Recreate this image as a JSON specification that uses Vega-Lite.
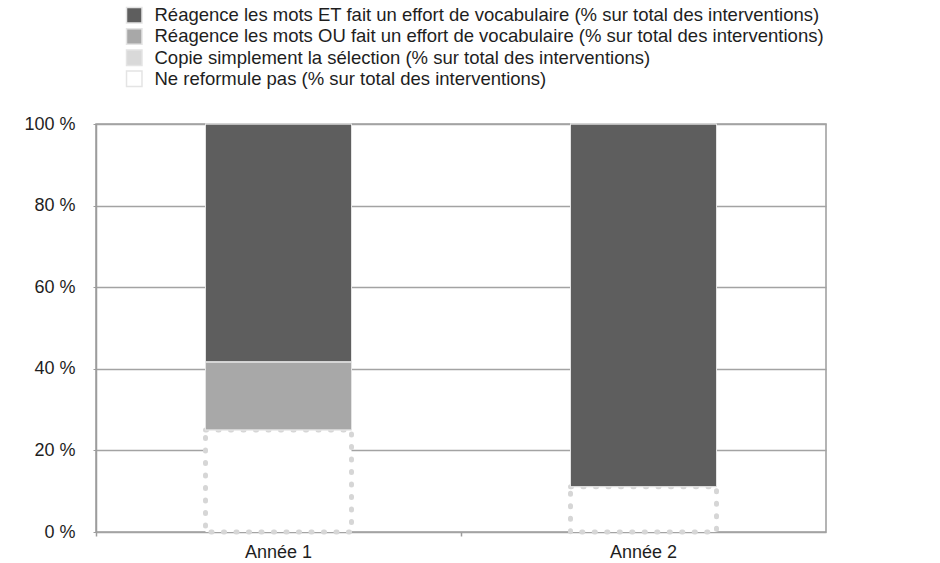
{
  "$schema": "https://vega.github.io/schema/vega-lite/v6.json",
  "width": 730,
  "height": 408,
  "autosize": {"type": "none"},
  "padding": {"left": 96, "top": 124, "right": 114, "bottom": 31},
  "background": "white",
  "config": {
    "font": "Liberation Sans",
    "view": {"stroke": "#9c9c9c", "strokeWidth": 1.5},
    "axis": {"labelFont": "Liberation Sans", "labelColor": "#1e1e1e", "labelFontSize": 18}
  },
  "data": {
    "values": [
      {"annee": "Année 1", "categorie": "Ne reformule pas (% sur total des interventions)", "rang": 1, "pct": 25},
      {"annee": "Année 1", "categorie": "Réagence les mots OU fait un effort de vocabulaire (% sur total des interventions)", "rang": 3, "pct": 16.7},
      {"annee": "Année 1", "categorie": "Réagence les mots ET fait un effort de vocabulaire (% sur total des interventions)", "rang": 4, "pct": 58.3},
      {"annee": "Année 2", "categorie": "Ne reformule pas (% sur total des interventions)", "rang": 1, "pct": 11.1},
      {"annee": "Année 2", "categorie": "Réagence les mots ET fait un effort de vocabulaire (% sur total des interventions)", "rang": 4, "pct": 88.9}
    ]
  },
  "resolve": {"axis": {"x": "independent"}},
  "layer": [
    {
      "mark": {"type": "bar", "width": {"band": 0.4}, "strokeCap": "round"},
      "encoding": {
        "x": {
          "field": "annee",
          "type": "nominal",
          "scale": {"paddingInner": 0, "paddingOuter": 0},
          "axis": {"title": null, "labelAngle": 0, "ticks": false, "domain": false, "labelPadding": 11}
        },
        "y": {
          "field": "pct",
          "type": "quantitative",
          "stack": "zero",
          "scale": {"domain": [0, 100], "nice": false},
          "axis": {
            "title": null,
            "values": [0, 20, 40, 60, 80, 100],
            "labelExpr": "datum.value + ' %'",
            "grid": true,
            "gridColor": "#a3a3a3",
            "gridWidth": 1.5,
            "domainColor": "#9c9c9c",
            "domainWidth": 1.5,
            "tickColor": "#9c9c9c",
            "tickSize": 3,
            "labelPadding": 18
          }
        },
        "order": {"field": "rang", "type": "quantitative"},
        "fill": {
          "field": "categorie",
          "type": "nominal",
          "scale": {
            "domain": [
              "Réagence les mots ET fait un effort de vocabulaire (% sur total des interventions)",
              "Réagence les mots OU fait un effort de vocabulaire (% sur total des interventions)",
              "Copie simplement la sélection (% sur total des interventions)",
              "Ne reformule pas (% sur total des interventions)"
            ],
            "range": ["#5e5e5e", "#a8a8a8", "#d9d9d9", "#ffffff"]
          },
          "legend": {
            "title": null,
            "orient": "none",
            "legendX": 29,
            "legendY": -118,
            "symbolType": "square",
            "symbolSize": 240,
            "labelFontSize": 18.5,
            "labelColor": "#1e1e1e",
            "labelLimit": 900,
            "labelOffset": 11,
            "rowPadding": -0.8,
            "padding": 0,
            "encode": {
              "symbols": {
                "update": {
                  "stroke": {"signal": "datum.value === 'Ne reformule pas (% sur total des interventions)' ? '#d2d2d2' : 'transparent'"},
                  "strokeDash": {"signal": "datum.value === 'Ne reformule pas (% sur total des interventions)' ? [3, 4] : [1, 0]"},
                  "strokeWidth": {"value": 2}
                }
              }
            }
          }
        },
        "stroke": {
          "condition": {"test": "datum.rang === 1", "value": "#d6d6d6"},
          "value": "#e4e4e4"
        },
        "strokeDash": {
          "condition": {"test": "datum.rang === 1", "value": [1, 11.5]},
          "value": [1, 0]
        },
        "strokeWidth": {
          "condition": {"test": "datum.rang === 1", "value": 5},
          "value": 1
        }
      }
    },
    {
      "mark": {"type": "bar", "opacity": 0},
      "encoding": {
        "x": {
          "field": "annee",
          "type": "nominal",
          "axis": {"title": null, "orient": "bottom", "labels": false, "domain": false, "bandPosition": 0, "tickSize": 4, "tickColor": "#9c9c9c", "tickWidth": 1.5}
        },
        "y": {"field": "pct", "type": "quantitative", "stack": "zero"}
      }
    }
  ]
}
